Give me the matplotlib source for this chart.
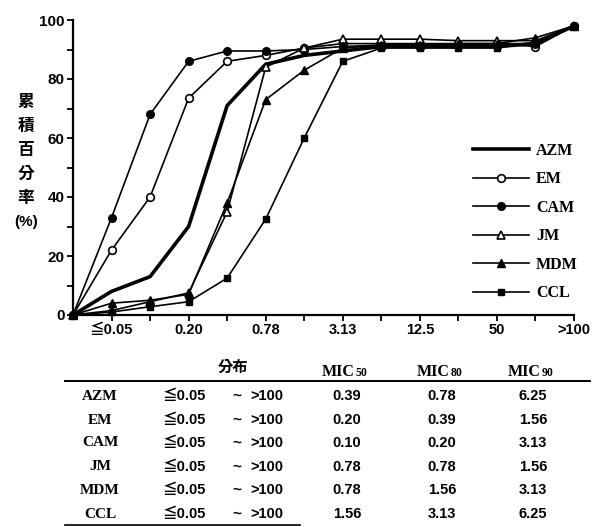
import numpy as np
import matplotlib
matplotlib.use("Agg")
import matplotlib.pyplot as plt

# category positions: origin, then MIC steps
mic_steps = ['0', '0.05', '0.10', '0.20', '0.39', '0.78', '1.56', '3.13',
             '6.25', '12.5', '25', '50', '100', '>100']
tick_pos = [1, 3, 5, 7, 9, 11, 13]
tick_labels = ['≦0.05', '0.20', '0.78', '3.13', '12.5', '50', '>100']

azm = [0, 8, 13, 30, 71, 85, 88, 89.5, 91, 91, 91, 91, 92, 98]
em = [0, 22, 40, 73.5, 86, 88, 90.5, 92, 92, 92, 92, 92, 91, 98]
cam = [0, 33, 68, 86, 89.5, 89.5, 90, 91, 91.5, 91.5, 91.5, 92, 92, 98]
jm = [0, 1.5, 4.5, 7.5, 35, 84, 90.5, 93.5, 93.5, 93.5, 93, 93, 93, 98]
mdm = [0, 4, 5, 7, 38, 73, 83, 90.5, 91.5, 91.5, 92, 92, 94, 98]
ccl = [0, 1, 2.8, 4.5, 12.5, 32.5, 60, 86, 90.5, 90.5, 90.5, 90.5, 92.5, 98]

# table
drugs = ['AZM', 'EM', 'CAM', 'JM', 'MDM', 'CCL']
range_lo = ['≦0.05'] * 6
range_hi = ['>100'] * 6
mic50 = ['0.39', '0.20', '0.10', '0.78', '0.78', '1.56']
mic80 = ['0.78', '0.39', '0.20', '0.78', '1.56', '3.13']
mic90 = ['6.25', '1.56', '3.13', '1.56', '3.13', '6.25']

W, H = 603, 527
fig = plt.figure(figsize=(W / 100, H / 100), dpi=100)
ax = fig.add_axes([73 / W, 1 - 315 / H, 501 / W, 295 / H])

x = np.arange(len(mic_steps))
lw = 1.2
ax.plot(x, azm, color='black', lw=2.6, label='AZM', clip_on=False, zorder=3)
ax.plot(x, em, color='black', lw=lw, marker='o', ms=5.5, mfc='white', mew=1.2,
        label='EM', clip_on=False, zorder=4)
ax.plot(x, cam, color='black', lw=lw, marker='o', ms=5.5, label='CAM',
        clip_on=False, zorder=4)
ax.plot(x, jm, color='black', lw=lw, marker='^', ms=5.5, mfc='white', mew=1.2,
        label='JM', clip_on=False, zorder=4)
ax.plot(x, mdm, color='black', lw=lw, marker='^', ms=5.5, label='MDM',
        clip_on=False, zorder=4)
ax.plot(x, ccl, color='black', lw=lw, marker='s', ms=5, label='CCL',
        clip_on=False, zorder=4)

ax.set_xlim(0, 13)
ax.set_ylim(0, 100)
ax.spines['top'].set_visible(False)
ax.spines['right'].set_visible(False)
ax.spines['left'].set_linewidth(1.6)
ax.spines['bottom'].set_linewidth(1.6)

lat = ['Liberation Sans', 'Noto Sans CJK JP']
ax.set_xticks(np.arange(1, 14), minor=True)
ax.set_xticks(tick_pos)
ax.set_xticklabels(tick_labels, family=lat, fontweight='bold', fontsize=10.5)
ax.set_yticks(np.arange(0, 101, 20))
ax.set_yticks(np.arange(0, 101, 10), minor=True)
ax.set_yticklabels([str(v) for v in range(0, 101, 20)],
                   family='Liberation Sans', fontweight='bold', fontsize=11)
ax.tick_params(which='both', direction='out', length=4, width=1.3, pad=2)

# stacked vertical ylabel
for i, ch in enumerate(['累', '積', '百', '分', '率']):
    fig.text(26 / W, 1 - (102 + i * 24) / H, ch, family=['Noto Sans CJK TC'],
             fontweight='bold', fontsize=12, ha='center', va='center')
fig.text(26 / W, 1 - 222 / H, '(%)', family='Liberation Sans',
         fontweight='bold', fontsize=11, ha='center', va='center')

leg = ax.legend(loc='upper left', bbox_to_anchor=(473 / W, 1 - 143 / H),
                bbox_transform=fig.transFigure, frameon=False,
                prop={'family': 'Liberation Serif', 'weight': 'bold', 'size': 11.5},
                handlelength=3.5, handletextpad=0.45, labelspacing=0.78,
                borderpad=0, borderaxespad=0)

# table below chart
fig.add_artist(plt.Line2D([65 / W, 590 / W], [1 - 381 / H, 1 - 381 / H],
                          color='black', lw=1.4))
fig.add_artist(plt.Line2D([65 / W, 300 / W], [1 - 525 / H, 1 - 525 / H],
                          color='black', lw=1.2))
fig.text(233 / W, 1 - 367 / H, '分布', family=['Noto Sans CJK TC'],
         fontweight='bold', fontsize=11, ha='center', va='center')
for cx, sub in [(345, '50'), (440, '80'), (531, '90')]:
    fig.text((cx + 10) / W, 1 - 376 / H, 'MIC', family='Liberation Serif',
             fontweight='bold', fontsize=11.5, ha='right', va='baseline')
    fig.text((cx + 11) / W, 1 - 376 / H, sub, family='Liberation Serif',
             fontweight='bold', fontsize=8.5, ha='left', va='baseline')

row_y = [396, 420, 443, 467, 490, 514]
for i in range(len(drugs)):
    yy = 1 - row_y[i] / H
    fig.text(100 / W, yy, drugs[i], family='Liberation Serif', fontweight='bold',
             fontsize=11, ha='center', va='center')
    fig.text(163 / W, yy, range_lo[i], family=lat,
             fontweight='bold', fontsize=10.5, ha='left', va='center')
    fig.text(237 / W, yy, '~', family='Liberation Sans',
             fontweight='bold', fontsize=11, ha='center', va='center')
    fig.text(250 / W, yy, range_hi[i], family='Liberation Sans',
             fontweight='bold', fontsize=10.5, ha='left', va='center')
    fig.text(347 / W, yy, mic50[i], family='Liberation Sans', fontweight='bold',
             fontsize=10.5, ha='center', va='center')
    fig.text(442 / W, yy, mic80[i], family='Liberation Sans', fontweight='bold',
             fontsize=10.5, ha='center', va='center')
    fig.text(533 / W, yy, mic90[i], family='Liberation Sans', fontweight='bold',
             fontsize=10.5, ha='center', va='center')

fig.savefig('out.png', dpi=100)
